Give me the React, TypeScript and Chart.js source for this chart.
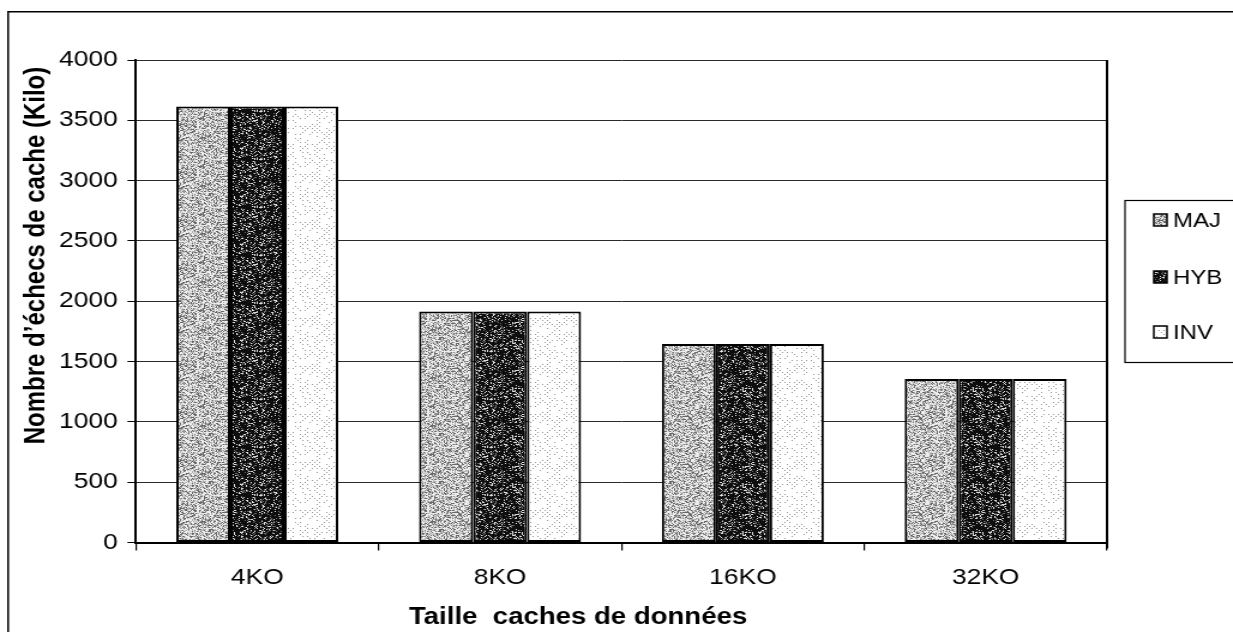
import React, { useEffect, useRef } from 'react';
import { Chart, registerables } from 'chart.js';

Chart.register(...registerables);

// ---- data ----
const categories = ['4KO', '8KO', '16KO', '32KO'];
const seriesNames = ['MAJ', 'HYB', 'INV'];
const majValues = [3615, 1915, 1645, 1355];
const hybValues = [3615, 1915, 1645, 1355];
const invValues = [3615, 1915, 1645, 1355];
const yMin = 0;
const yMax = 4000;
const yStep = 500;
const yAxisTitle = 'Nombre d’échecs de cache (Kilo)';
const xAxisTitle = 'Taille  caches de données';

// ---- geometry (internal canvas pixels; canvas is stretched horizontally like the scan) ----
const PAGE_W = 1233;
const PAGE_H = 632;
const INNER_W = 1028;
const FONT = '"Liberation Sans", Arial, Helvetica, sans-serif';

function hash(x: number, y: number, seed: number): number {
  let h = (x * 374761393 + y * 668265263 + seed * 1442695041) | 0;
  h = Math.imul(h ^ (h >>> 13), 1274126177);
  h = h ^ (h >>> 16);
  return (h >>> 0) / 4294967296;
}

function makePattern(kind: string): CanvasPattern | string {
  const size = 48;
  const c = document.createElement('canvas');
  c.width = size;
  c.height = size;
  const ctx = c.getContext('2d');
  if (!ctx) return '#999';
  const img = ctx.createImageData(size, size);
  for (let y = 0; y < size; y++) {
    for (let x = 0; x < size; x++) {
      let v = 255;
      if (kind === 'maj') {
        const r = hash(x, y, 1);
        v = r < 0.26 ? 105 : r < 0.52 ? 175 : 236;
      } else if (kind === 'hyb') {
        const r = hash(x, y, 2);
        v = r < 0.74 ? 14 : r < 0.87 ? 105 : 220;
      } else {
        const r = hash(x, y, 3);
        const onGrid = (x % 4 === 0 && y % 4 === 0) || (x % 4 === 2 && y % 4 === 2);
        v = onGrid && r < 0.5 ? 150 : 255;
      }
      const i = (y * size + x) * 4;
      img.data[i] = v;
      img.data[i + 1] = v;
      img.data[i + 2] = v;
      img.data[i + 3] = 255;
    }
  }
  ctx.putImageData(img, 0, 0);
  return ctx.createPattern(c, 'repeat') || '#999';
}

export default function App() {
  const ref = useRef<HTMLCanvasElement | null>(null);

  useEffect(() => {
    const canvas = ref.current;
    if (!canvas) return;
    const fills = [makePattern('maj'), makePattern('hyb'), makePattern('inv')];
    const values = [majValues, hybValues, invValues];

    const decor = {
      id: 'decor',
      afterDraw(chart: any) {
        const ctx = chart.ctx;
        const area = chart.chartArea;
        ctx.save();
        // outer frame
        ctx.strokeStyle = '#000';
        ctx.lineWidth = 1.5;
        ctx.beginPath();
        ctx.moveTo(6.8, PAGE_H + 5);
        ctx.lineTo(6.8, 11.8);
        ctx.lineTo(INNER_W + 5, 11.8);
        ctx.stroke();
        // plot area right border
        ctx.lineWidth = 2;
        ctx.beginPath();
        ctx.moveTo(area.right, area.top);
        ctx.lineTo(area.right, area.bottom + 6);
        ctx.stroke();
        // legend box
        ctx.lineWidth = 1.2;
        ctx.strokeRect(938, 200.5, 120, 162);
        const ys = [220, 277, 332];
        chart.data.datasets.forEach((ds: any, i: number) => {
          const y = ys[i];
          ctx.fillStyle = ds.backgroundColor;
          ctx.fillRect(962, y - 6, 11, 12);
          ctx.lineWidth = 1.5;
          ctx.strokeStyle = '#000';
          ctx.strokeRect(962, y - 6, 11, 12);
          ctx.fillStyle = '#000';
          ctx.font = `20px ${FONT}`;
          ctx.textAlign = 'left';
          ctx.textBaseline = 'middle';
          ctx.fillText(ds.label, 978, y + 1);
        });
        // axis titles
        ctx.fillStyle = '#000';
        ctx.font = `bold 23px ${FONT}`;
        ctx.textAlign = 'center';
        ctx.textBaseline = 'alphabetic';
        ctx.fillText(xAxisTitle, 482, 624);
        ctx.translate(37, 255.5);
        ctx.rotate(-Math.PI / 2);
        ctx.font = `bold 24px ${FONT}`;
        ctx.fillText(yAxisTitle, 0, 0);
        ctx.restore();
      },
    };

    const chart = new Chart(canvas, {
      type: 'bar',
      data: {
        labels: categories,
        datasets: seriesNames.map((name, i) => ({
          label: name,
          data: values[i],
          backgroundColor: fills[i] as any,
          borderColor: '#000',
          borderWidth: 2,
          borderSkipped: false,
          categoryPercentage: 0.667,
          barPercentage: 1.0,
        })),
      },
      options: {
        responsive: false,
        animation: false,
        devicePixelRatio: 1,
        layout: { padding: { top: 60, right: INNER_W - 923, bottom: 0, left: 0 } },
        plugins: {
          legend: { display: false },
          tooltip: { enabled: false },
        },
        scales: {
          x: {
            afterFit: (s: any) => { s.height = 89.5; },
            grid: {
              drawOnChartArea: false,
              drawTicks: true,
              tickLength: 8,
              color: '#000',
              lineWidth: 1.2,
            },
            border: { display: true, color: '#000', width: 2 },
            ticks: {
              color: '#000',
              padding: 14,
              font: { family: FONT, size: 22 },
            },
          },
          y: {
            min: yMin,
            max: yMax,
            afterFit: (s: any) => { s.width = 113.3; },
            grid: {
              color: '#2a2a2a',
              lineWidth: 1,
              tickLength: 7,
              tickColor: '#000',
            },
            border: { display: true, color: '#000', width: 2 },
            ticks: {
              stepSize: yStep,
              color: '#000',
              padding: 8,
              font: { family: FONT, size: 22 },
              callback: (v: any) => String(v),
            },
          },
        },
      },
      plugins: [decor],
    });

    return () => chart.destroy();
  }, []);

  return (
    <canvas
      ref={ref}
      width={INNER_W}
      height={PAGE_H}
      style={{ position: 'fixed', left: 0, top: 0, width: `${PAGE_W}px`, height: `${PAGE_H}px`, background: '#fff' }}
    />
  );
}
